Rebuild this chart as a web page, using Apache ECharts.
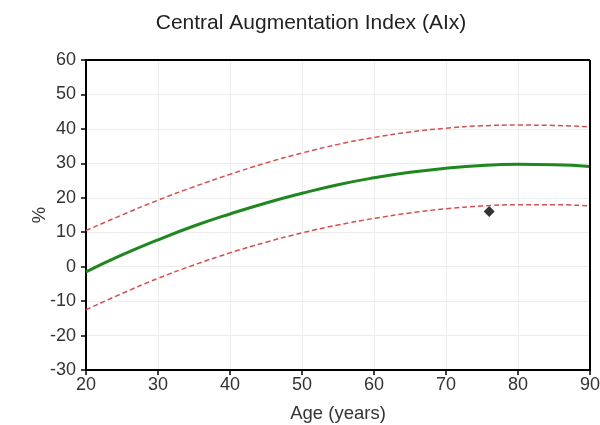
<!DOCTYPE html>
<html><head><meta charset="utf-8">
<script src="https://cdn.jsdelivr.net/npm/echarts@6/dist/echarts.min.js"></script>
<style>html,body{margin:0;padding:0;background:#fff}#c{width:600px;height:425px}</style>
</head><body><div id="c"></div>
<script>
const ages = [20,25,30,35,40,45,50,55,60,65,70,75,80,85,90];
const meanAIx = [-1.5,3.4,7.8,11.8,15.3,18.5,21.3,23.8,25.8,27.4,28.6,29.4,29.7,29.6,29.1];
const upperAIx = [10.5,15.0,19.3,23.2,26.8,30.1,33.0,35.5,37.5,39.1,40.2,40.9,41.1,41.0,40.6];
const lowerAIx = [-12.5,-7.8,-3.4,0.5,4.0,7.1,9.8,12.1,14.0,15.6,16.8,17.6,18.0,18.0,17.6];
const patient = [[76,16]];

const pairs = v => ages.map((a,i)=>[a,v[i]]);
const chart = echarts.init(document.getElementById('c'));
const FF = 'Liberation Sans, Arial, sans-serif';
chart.setOption({
  animation:false,
  title:{text:'Central Augmentation Index (AIx)', left:306, top:8, textAlign:'center',
    textStyle:{fontSize:21, fontWeight:'normal', color:'#222', fontFamily:FF}},
  grid:{left:86, right:10, top:60, bottom:55, outerBoundsMode:'none', containLabel:false},
  xAxis:{type:'value', min:20, max:90, interval:10, name:'Age (years)', nameLocation:'middle', nameGap:34,
    nameMoveOverlap:false,
    nameTextStyle:{color:'#333', fontSize:18.5, fontFamily:FF},
    axisLine:{onZero:false, lineStyle:{color:'#000', width:2}},
    axisTick:{length:5, lineStyle:{color:'#000', width:1.5}},
    axisLabel:{color:'#333', fontSize:18, fontFamily:FF, margin:6},
    splitLine:{show:true, lineStyle:{color:'#ececec', width:1}}},
  yAxis:{type:'value', min:-30, max:60, interval:10, name:'%', nameLocation:'middle', nameGap:37, nameRotate:90,
    nameMoveOverlap:false,
    nameTextStyle:{color:'#333', fontSize:18.5, fontFamily:FF},
    axisLine:{show:true, onZero:false, lineStyle:{color:'#000', width:2}},
    axisTick:{show:true, length:5, lineStyle:{color:'#000', width:1.5}},
    axisLabel:{color:'#333', fontSize:18, fontFamily:FF, margin:10},
    splitLine:{show:true, lineStyle:{color:'#ececec', width:1}}},
  series:[
    {type:'line', data:pairs(upperAIx), smooth:true, showSymbol:false, lineStyle:{color:'#e04a4a', width:1.5, type:[5,3]}},
    {type:'line', data:pairs(lowerAIx), smooth:true, showSymbol:false, lineStyle:{color:'#e04a4a', width:1.5, type:[5,3]}},
    {type:'line', data:pairs(meanAIx), smooth:true, showSymbol:false, lineStyle:{color:'#1e881e', width:3}},
    {type:'scatter', data:patient, symbol:'diamond', symbolSize:11, itemStyle:{color:'#000'}},
    {type:'line', data:[], markLine:{silent:true, symbol:'none', label:{show:false},
      lineStyle:{color:'#000', width:2, type:'solid'}, data:[[{coord:[20,60]},{coord:[90,60]}],[{coord:[90,-30]},{coord:[90,60]}]]}}
  ]
});
</script></body></html>
